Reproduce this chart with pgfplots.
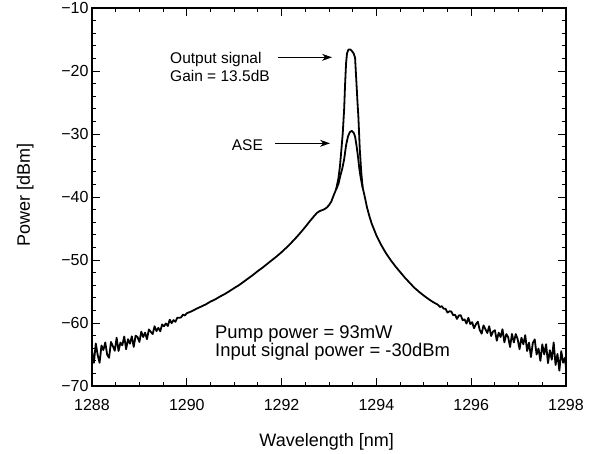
\documentclass[border=0pt]{standalone}
\usepackage{fontspec}
\setmainfont{Liberation Sans}
\usepackage{pgfplots}
\pgfplotsset{compat=1.18}
\usetikzlibrary{arrows.meta}
\begin{document}
\begin{tikzpicture}
\begin{axis}[name=ax, scale only axis, width=474pt, height=378pt,
  xmin=1288, xmax=1298, ymin=-70, ymax=-10,
  xtick={1288,1290,1292,1294,1296,1298},
  xticklabels={1288,1290,1292,1294,1296,1298},
  ytick={-70,-60,-50,-40,-30,-20,-10},
  yticklabels={−70,−60,−50,−40,−30,−20,−10},
  minor x tick num=3, minor y tick num=4,
  tick align=inside, major tick length=8pt, minor tick length=4pt,
  every tick/.style={black, line width=1pt},
  axis line style={line width=1.4pt},
  tick label style={font=\fontsize{16}{19}\selectfont},
  xticklabel style={yshift=-10pt},
  xlabel={Wavelength [nm]}, ylabel={Power [dBm]},
  label style={font=\fontsize{18}{21}\selectfont},
  xlabel style={at={(axis description cs:0.495,-0.159)}, anchor=base},
  ylabel style={at={(axis description cs:-0.141,0.505)}, anchor=center},
  clip=false]
% ASE spectrum
\addplot[black, line width=1.8pt, line join=round, no marks] coordinates {
(1288.00,-64.46) (1288.04,-66.33) (1288.08,-63.26) (1288.12,-65.08) (1288.16,-66.32) (1288.20,-63.56) (1288.24,-64.29) (1288.28,-63.09) (1288.32,-65.03) (1288.36,-65.52) (1288.40,-63.01) (1288.44,-63.66) (1288.48,-64.41) (1288.52,-62.34) (1288.56,-64.44) (1288.60,-63.11) (1288.64,-63.53) (1288.68,-62.14) (1288.72,-64.16) (1288.76,-62.57) (1288.80,-63.28) (1288.84,-62.12) (1288.88,-63.80) (1288.92,-62.02) (1288.96,-62.22) (1289.00,-63.01) (1289.04,-61.38) (1289.08,-62.23) (1289.12,-61.53) (1289.16,-62.57) (1289.20,-61.02) (1289.24,-61.40) (1289.28,-61.75) (1289.32,-60.51) (1289.36,-61.28) (1289.40,-60.77) (1289.44,-61.31) (1289.48,-60.23) (1289.52,-60.52) (1289.56,-60.07) (1289.60,-60.48) (1289.64,-59.47) (1289.68,-60.03) (1289.72,-59.54) (1289.76,-59.81) (1289.80,-59.15) (1289.84,-59.18) (1289.88,-59.11) (1289.92,-58.66) (1289.96,-58.81) (1290.00,-58.45)
(1290.1,-58.15) (1290.2,-57.75) (1290.3,-57.40) (1290.4,-57.05) (1290.5,-56.60) (1290.6,-56.25) (1290.7,-55.80) (1290.8,-55.40) (1290.9,-54.95) (1291.0,-54.45) (1291.1,-54.0) (1291.2,-53.45) (1291.3,-52.9) (1291.4,-52.35) (1291.5,-51.75) (1291.6,-51.2) (1291.7,-50.6) (1291.8,-50.0) (1291.9,-49.4) (1292.0,-48.75) (1292.1,-48.05) (1292.2,-47.3) (1292.3,-46.5) (1292.4,-45.65) (1292.5,-44.75) (1292.6,-43.8) (1292.7,-42.9) (1292.75,-42.5) (1292.8,-42.25) (1292.85,-42.1) (1292.9,-41.95) (1292.95,-41.7) (1293.0,-41.3) (1293.05,-40.7)
(1293.10,-39.7) (1293.15,-38.8) (1293.20,-37.9) (1293.24,-36.6) (1293.28,-35.5) (1293.32,-34.0) (1293.36,-31.8) (1293.40,-30.4) (1293.44,-29.7) (1293.48,-29.5) (1293.52,-29.8) (1293.55,-30.4) (1293.58,-31.8) (1293.61,-33.5) (1293.64,-35.5) (1293.67,-37.0) (1293.71,-38.5) (1293.75,-39.8) (1293.80,-41.6) (1293.85,-43.0) (1293.90,-44.2)
(1294.0,-46.1) (1294.1,-47.6) (1294.2,-48.9) (1294.3,-50.0) (1294.4,-51.0) (1294.5,-51.9) (1294.6,-52.8) (1294.7,-53.6) (1294.8,-54.4) (1294.9,-55.05) (1295.0,-55.65) (1295.1,-56.2) (1295.2,-56.7)
(1295.30,-57.11) (1295.34,-57.45) (1295.38,-57.34) (1295.42,-57.73) (1295.46,-57.76) (1295.50,-58.35) (1295.54,-58.14) (1295.58,-58.17) (1295.62,-58.76) (1295.66,-58.69) (1295.70,-59.35) (1295.74,-58.80) (1295.78,-58.77) (1295.82,-59.56) (1295.86,-59.42) (1295.90,-60.09) (1295.94,-59.18) (1295.98,-60.16) (1296.02,-59.87) (1296.06,-60.83) (1296.10,-60.18) (1296.14,-59.80) (1296.18,-61.11) (1296.22,-61.69) (1296.26,-60.38) (1296.30,-60.97) (1296.34,-61.58) (1296.38,-60.51) (1296.42,-62.07) (1296.46,-61.36) (1296.50,-61.15) (1296.54,-62.81) (1296.58,-61.54) (1296.62,-62.23) (1296.66,-60.99) (1296.70,-63.06) (1296.74,-61.76) (1296.78,-62.24) (1296.82,-63.81) (1296.86,-61.74) (1296.90,-63.08) (1296.94,-61.76) (1296.98,-62.56) (1297.02,-64.16) (1297.06,-62.33) (1297.10,-63.38) (1297.14,-61.93) (1297.18,-64.44) (1297.22,-63.11) (1297.26,-65.40) (1297.30,-63.18) (1297.34,-62.60) (1297.38,-65.00) (1297.42,-64.06) (1297.46,-66.01) (1297.50,-63.39) (1297.54,-64.98) (1297.58,-63.37) (1297.62,-66.36) (1297.66,-64.33) (1297.70,-65.82) (1297.74,-63.09) (1297.78,-66.67) (1297.82,-64.91) (1297.86,-67.56) (1297.90,-64.47) (1297.94,-66.30) (1297.98,-65.53) (1298.00,-67.2)
};
% Output signal peak
\addplot[black, line width=1.8pt, line join=round, no marks] coordinates {
(1293.15,-38.8) (1293.20,-37.0) (1293.23,-35.2) (1293.26,-32.6) (1293.29,-29.9) (1293.32,-26.0) (1293.34,-22.0) (1293.36,-18.8) (1293.38,-17.2) (1293.41,-16.6) (1293.45,-16.6) (1293.48,-16.8) (1293.52,-17.2) (1293.55,-17.9) (1293.58,-22.0) (1293.60,-24.8) (1293.62,-27.3) (1293.65,-32.5) (1293.68,-36.0) (1293.71,-38.5)
};
\node[anchor=base west, font=\fontsize{15.5}{18}\selectfont, inner sep=0pt] at (axis cs:1289.646,-18.78) {Output signal};
\node[anchor=base west, font=\fontsize{15.5}{18}\selectfont, inner sep=0pt] at (axis cs:1289.646,-21.70) {Gain = 13.5dB};
\node[anchor=base east, font=\fontsize{15.5}{18}\selectfont, inner sep=0pt] at (axis cs:1291.61,-32.65) {ASE};
\draw[line width=0.7pt, -{Stealth[length=10pt,width=7pt]}] (axis cs:1291.924,-17.83) -- (axis cs:1293.063,-17.83);
\draw[line width=1.1pt, -{Stealth[length=10pt,width=7pt]}] (axis cs:1291.861,-31.48) -- (axis cs:1293.021,-31.48);
\node[anchor=base west, font=\fontsize{18.4}{21}\selectfont, inner sep=0pt] at (axis cs:1290.595,-62.43) {Pump power = 93mW};
\node[anchor=base west, font=\fontsize{18.4}{21}\selectfont, inner sep=0pt] at (axis cs:1290.595,-65.35) {Input signal power = -30dBm};
\end{axis}
\pgfresetboundingbox
\path (ax.south west) ++(-92pt,-67pt) rectangle ++(592pt,453pt);
\end{tikzpicture}
\end{document}
